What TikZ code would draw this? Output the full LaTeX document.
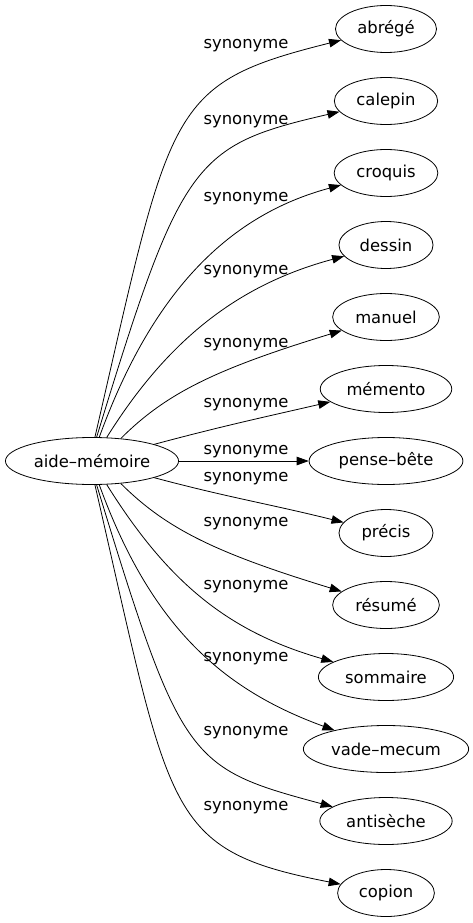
\documentclass[tikz,border=0pt]{standalone}
\usepackage{fontspec}
\setmainfont{DejaVu Sans}
\usetikzlibrary{arrows.meta,shapes.geometric}

\begin{document}
\begin{tikzpicture}[x=1pt,y=1pt,
  word/.style={draw,ellipse,line width=.8pt,inner xsep=7pt,inner ysep=2pt,
    minimum width=94pt,minimum height=47pt,font=\fontsize{16.4}{19}\selectfont},
  lbl/.style={inner sep=0pt,font=\fontsize{16.4}{19}\selectfont},
  syn/.style={line width=.8pt,-{Triangle[length=12pt,width=8.5pt]}}]
  \useasboundingbox (0,0) rectangle (472,-923);
  % centre word
  \node[word,inner xsep=3pt] (aide) at (92,-461) {aide–mémoire};
  % synonyms
  \node[word] (abrege)  at (386,-29)  {abrégé};
  \node[word] (calepin) at (386,-101) {calepin};
  \node[word] (croquis) at (386,-173) {croquis};
  \node[word] (dessin)  at (386,-245) {dessin};
  \node[word] (manuel)  at (386,-317) {manuel};
  \node[word] (memento) at (386,-389) {mémento};
  \node[word] (pense)   at (386,-461) {pense–bête};
  \node[word] (precis)  at (386,-533) {précis};
  \node[word] (resume)  at (386,-605) {résumé};
  \node[word] (sommaire) at (386,-677) {sommaire};
  \node[word,inner xsep=3.5pt] (vade) at (386,-749) {vade–mecum};
  \node[word] (antiseche) at (386,-821) {antisèche};
  \node[word] (copion)  at (386,-893) {copion};
  % edge labels
  \node[lbl] (l1)  at (246,-46)  {synonyme};
  \node[lbl] (l2)  at (246,-122) {synonyme};
  \node[lbl] (l3)  at (246,-199) {synonyme};
  \node[lbl] (l4)  at (246,-272) {synonyme};
  \node[lbl] (l5)  at (246,-345) {synonyme};
  \node[lbl] (l6)  at (246,-405) {synonyme};
  \node[lbl] (l7)  at (246,-452) {synonyme};
  \node[lbl] (l8)  at (246,-479) {synonyme};
  \node[lbl] (l9)  at (246,-524) {synonyme};
  \node[lbl] (l10) at (246,-587) {synonyme};
  \node[lbl] (l11) at (246,-659) {synonyme};
  \node[lbl] (l12) at (246,-733) {synonyme};
  \node[lbl] (l13) at (246,-808) {synonyme};
  % edges
  \draw[syn] (aide.83) to[out=77,in=194,out distance=340,in distance=180] (abrege);
  \draw[syn] (aide.79) to[out=73,in=193,out distance=290,in distance=150] (calepin);
  \draw[syn] (aide.73) to[out=70,in=195,out distance=150,in distance=120] (croquis);
  \draw[syn] (aide.58) to[out=58,in=195,out distance=115,in distance=110] (dessin);
  \draw[syn] (aide.38) to[out=45,in=197,out distance=65,in distance=130] (manuel);
  \draw[syn] (aide.15) to[out=15,in=193] (memento);
  \draw[syn] (aide) -- (pense);
  \draw[syn] (aide.-15) to[out=-15,in=166] (precis);
  \draw[syn] (aide.-38) to[out=-45,in=163,out distance=65,in distance=130] (resume);
  \draw[syn] (aide.-58) to[out=-58,in=164,out distance=115,in distance=110] (sommaire);
  \draw[syn] (aide.-73) to[out=-70,in=160,out distance=150,in distance=120] (vade);
  \draw[syn] (aide.-79) to[out=-73,in=165,out distance=290,in distance=150] (antiseche);
  \draw[syn] (aide.-83) to[out=-77,in=169,out distance=340,in distance=180] (copion);
\end{tikzpicture}
\end{document}
